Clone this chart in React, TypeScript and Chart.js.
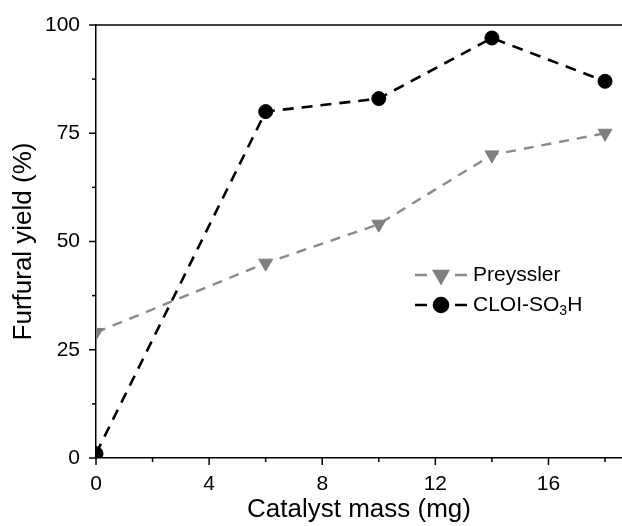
import React, { useEffect, useRef } from "react";
import { Chart, registerables } from "chart.js";
import { drawPoint } from "chart.js/helpers";

Chart.register(...registerables);

const catalystMass = [0, 6, 10, 14, 18];
const preysslerYield = [29, 45, 54, 70, 75];
const cloiYield = [1, 80, 83, 97, 87];
const seriesLabels = ["Preyssler", "CLOI-SO₃H"];
const xMajorTicks = [0, 4, 8, 12, 16];
const xMinorTicks = [2, 6, 10, 14, 18];
const yMajorTicks = [0, 25, 50, 75, 100];
const yMinorTicks = [12.5, 37.5, 62.5, 87.5];
const xTitle = "Catalyst mass (mg)";
const yTitle = "Furfural yield (%)";

const FONT = "'Liberation Sans', Arial, sans-serif";

const framePlugin = {
  id: "frameTicks",
  afterDraw(chart: any) {
    const { ctx, chartArea } = chart;
    const xs = chart.scales.x;
    const ys = chart.scales.y;
    ctx.save();
    ctx.strokeStyle = "#000";
    ctx.lineWidth = 1.5;
    ctx.setLineDash([]);
    ctx.beginPath();
    ctx.moveTo(chartArea.left, chartArea.top);
    ctx.lineTo(chartArea.right + 2, chartArea.top);
    ctx.stroke();
    const tick = (vals: number[], len: number, axis: "x" | "y") => {
      vals.forEach((v) => {
        ctx.beginPath();
        if (axis === "x") {
          const px = xs.getPixelForValue(v);
          ctx.moveTo(px, chartArea.bottom);
          ctx.lineTo(px, chartArea.bottom + len);
        } else {
          const py = ys.getPixelForValue(v);
          ctx.moveTo(chartArea.left, py);
          ctx.lineTo(chartArea.left - len, py);
        }
        ctx.stroke();
      });
    };
    tick(xMajorTicks, 7, "x");
    tick(xMinorTicks, 4, "x");
    tick(yMajorTicks, 7, "y");
    tick(yMinorTicks, 4, "y");
    ctx.restore();
  },
};

const legendPlugin = {
  id: "customLegend",
  afterDraw(chart: any) {
    const { ctx, chartArea } = chart;
    const x0 = chartArea.left + 319;
    const y0 = chartArea.top + 250;
    chart.data.datasets.forEach((ds: any, i: number) => {
      const y = y0 + i * 30;
      ctx.save();
      ctx.strokeStyle = ds.borderColor;
      ctx.lineWidth = ds.borderWidth;
      ctx.setLineDash([]);
      ctx.beginPath();
      ctx.moveTo(x0, y);
      ctx.lineTo(x0 + 12, y);
      ctx.moveTo(x0 + 40, y);
      ctx.lineTo(x0 + 52, y);
      ctx.stroke();
      ctx.fillStyle = ds.pointBackgroundColor;
      ctx.strokeStyle = ds.pointBorderColor;
      drawPoint(
        ctx,
        {
          pointStyle: ds.pointStyle,
          rotation: ds.pointRotation || 0,
          radius: ds.pointRadius,
          borderWidth: 1,
        } as any,
        x0 + 26,
        y
      );
      ctx.fillStyle = "#000";
      ctx.textBaseline = "middle";
      ctx.textAlign = "left";
      let tx = x0 + 58;
      const parts = String(ds.label).split(/([₀-₉]+)/);
      parts.forEach((p: string) => {
        if (!p) return;
        if (/[₀-₉]/.test(p)) {
          const digits = p.replace(/[₀-₉]/g, (c) => String(c.charCodeAt(0) - 0x2080));
          ctx.font = `14px ${FONT}`;
          ctx.fillText(digits, tx, y + 6);
          tx += ctx.measureText(digits).width;
        } else {
          ctx.font = `21px ${FONT}`;
          ctx.fillText(p, tx, y);
          tx += ctx.measureText(p).width;
        }
      });
      ctx.restore();
    });
  },
};

export default function App() {
  const ref = useRef<HTMLCanvasElement | null>(null);
  useEffect(() => {
    if (!ref.current) return;
    const chart = new Chart(ref.current, {
      type: "line",
      data: {
        datasets: [
          {
            label: seriesLabels[0],
            data: catalystMass.map((x, i) => ({ x, y: preysslerYield[i] })),
            borderColor: "#8a8a8a",
            borderWidth: 2.4,
            borderDash: [10, 8],
            pointStyle: "triangle",
            pointRotation: 180,
            pointRadius: 8,
            pointBackgroundColor: "#7f7f7f",
            pointBorderColor: "#7f7f7f",
            pointBorderWidth: 1,
            tension: 0,
          } as any,
          {
            label: seriesLabels[1],
            data: catalystMass.map((x, i) => ({ x, y: cloiYield[i] })),
            borderColor: "#000000",
            borderWidth: 2.6,
            borderDash: [11, 8],
            pointStyle: "circle",
            pointRadius: 7,
            pointBackgroundColor: "#000000",
            pointBorderColor: "#000000",
            pointBorderWidth: 1,
            tension: 0,
          } as any,
        ],
      },
      options: {
        responsive: false,
        animation: false,
        devicePixelRatio: 1,
        layout: { autoPadding: false, padding: { left: 0, top: 25, right: 0, bottom: 0 } },
        plugins: {
          legend: { display: false },
          tooltip: { enabled: false },
        },
        scales: {
          x: {
            type: "linear",
            min: 0,
            max: 18.6,
            grid: { display: false },
            border: { display: true, color: "#000", width: 1.5 },
            ticks: {
              stepSize: 2,
              includeBounds: false,
              autoSkip: false,
              maxRotation: 0,
              padding: 6,
              color: "#000",
              font: { family: FONT, size: 21 },
              callback: (v: any) => (xMajorTicks.includes(Number(v)) ? String(v) : ""),
            },
            title: {
              display: true,
              text: xTitle,
              color: "#000",
              font: { family: FONT, size: 26 },
              padding: { top: 0, bottom: 1 },
            },
            afterFit: (s: any) => {
              s.height = 68;
              s.paddingRight = 0;
              s.paddingLeft = 0;
            },
          },
          y: {
            type: "linear",
            min: 0,
            max: 100,
            grid: { display: false },
            border: { display: true, color: "#000", width: 1.5 },
            ticks: {
              stepSize: 12.5,
              autoSkip: false,
              padding: 8,
              color: "#000",
              font: { family: FONT, size: 21 },
              callback: (v: any) => (yMajorTicks.includes(Number(v)) ? String(v) : ""),
            },
            title: {
              display: true,
              text: yTitle,
              color: "#000",
              font: { family: FONT, size: 26 },
              padding: { top: 8, bottom: 0 },
            },
            afterFit: (s: any) => {
              s.width = 96;
            },
          },
        },
      },
      plugins: [framePlugin, legendPlugin],
    });
    return () => chart.destroy();
  }, []);
  return (
    <canvas
      ref={ref}
      width={622}
      height={526}
      style={{ position: "absolute", left: 0, top: 0, display: "block", width: 622, height: 526 }}
    />
  );
}
